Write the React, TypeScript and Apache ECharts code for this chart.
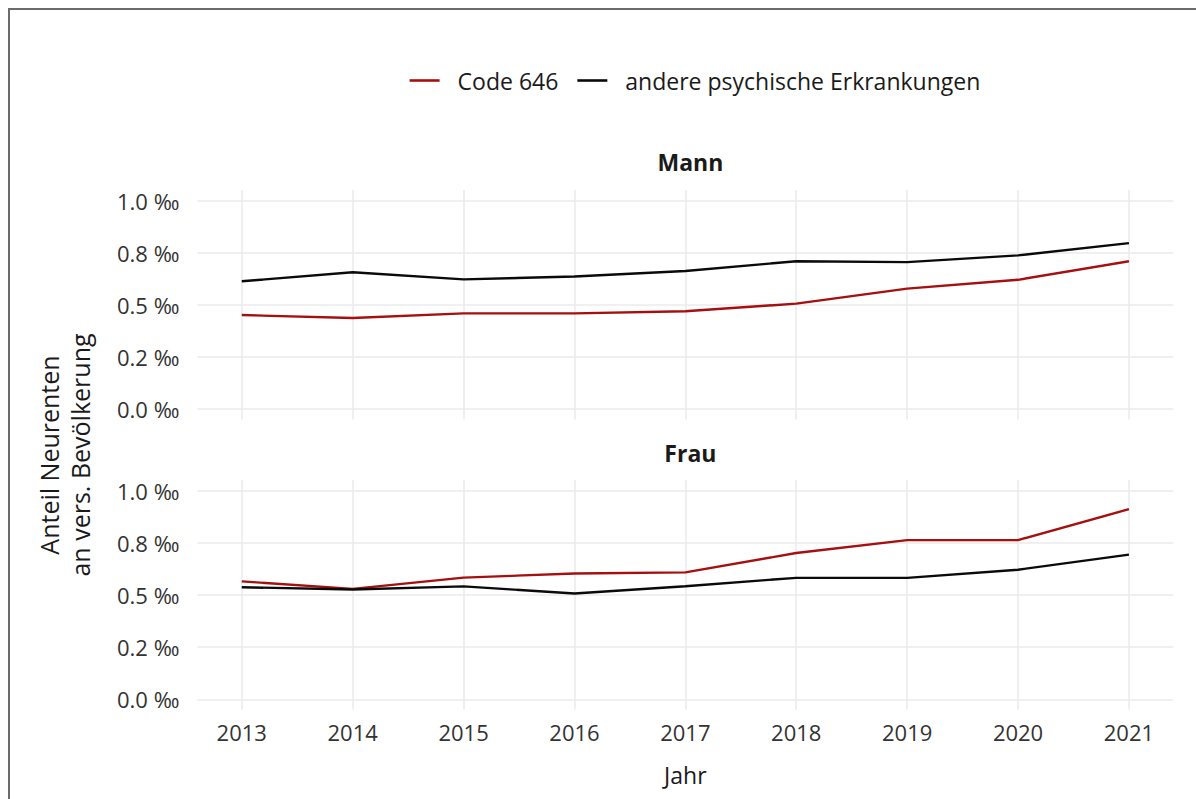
import React, { useEffect, useRef } from "react";
import * as echarts from "echarts";

const years = [2013, 2014, 2015, 2016, 2017, 2018, 2019, 2020, 2021];
const mannCode646 = [0.451, 0.437, 0.459, 0.459, 0.469, 0.506, 0.578, 0.62, 0.709];
const mannAndere = [0.613, 0.656, 0.622, 0.636, 0.662, 0.709, 0.705, 0.737, 0.796];
const frauCode646 = [0.565, 0.529, 0.583, 0.603, 0.608, 0.701, 0.763, 0.763, 0.911];
const frauAndere = [0.537, 0.526, 0.541, 0.507, 0.542, 0.582, 0.582, 0.621, 0.693];
const yTicks = [0, 0.25, 0.5, 0.75, 1];
const yTickLabels = ["0.0 ‰", "0.2 ‰", "0.5 ‰", "0.8 ‰", "1.0 ‰"];
const panels = ["Mann", "Frau"];
const seriesNames = ["Code 646", "andere psychische Erkrankungen"];

const RED = "#a50f0f";
const BLACK = "#0a0a0a";
const GRID = "#ebebeb";
const FONT = "Open Sans";

export default function App() {
  const ref = useRef<HTMLDivElement>(null);
  useEffect(() => {
    if (!ref.current) return;
    const chart = echarts.init(ref.current, undefined, { renderer: "svg" });
    const W = 1186;
    const gridLeft = 187.4;
    const gridRight = W - 1163.3;
    const gridTops = [180.1, 470.2];
    const gridH = 229.5;

    const grids = gridTops.map((t) => ({
      left: gridLeft,
      right: gridRight,
      top: t,
      height: gridH,
    }));

    const xAxes = gridTops.map((_, i) => ({
      type: "value",
      gridIndex: i,
      min: 2012.6,
      max: 2021.4,
      axisLine: { show: false },
      axisTick: { show: false },
      splitLine: { show: false },
      axisLabel: {
        show: i === 1,
        customValues: years,
        formatter: (v: number) => String(Math.round(v)),
        fontFamily: FONT,
        fontSize: 22,
        color: "#333333",
        margin: 11,
      },
    }));

    const yAxes = gridTops.map((_, i) => ({
      type: "value",
      gridIndex: i,
      min: -0.05,
      max: 1.05,
      axisLine: { show: false },
      axisTick: { show: false },
      splitLine: { show: false },
      axisLabel: {
        customValues: yTicks,
        formatter: (v: number) => {
          const k = yTicks.findIndex((t) => Math.abs(t - v) < 1e-6);
          return k >= 0 ? yTickLabels[k] : "";
        },
        fontFamily: FONT,
        fontSize: 22,
        color: "#333333",
        margin: 18,
      },
    }));

    const gridMarkLine = {
      silent: true,
      z: 1,
      symbol: ["none", "none"],
      label: { show: false },
      emphasis: { disabled: true },
      lineStyle: { type: "solid", color: GRID, width: 1.6 },
      data: [
        ...years.map((y) => ({ xAxis: y })),
        ...yTicks.map((v) => ({ yAxis: v })),
      ],
    };

    const data = [
      [mannCode646, mannAndere],
      [frauCode646, frauAndere],
    ];

    const series: any[] = [];
    data.forEach((pair, gi) => {
      pair.forEach((vals, si) => {
        series.push({
          type: "line",
          name: seriesNames[si],
          xAxisIndex: gi,
          yAxisIndex: gi,
          symbol: "none",
          z: 3,
          lineStyle: { color: si === 0 ? RED : BLACK, width: 2.4 },
          itemStyle: { color: si === 0 ? RED : BLACK },
          data: years.map((y, k) => [y, vals[k]]),
          markLine: si === 1 ? gridMarkLine : undefined,
        });
      });
    });

    chart.setOption({
      animation: false,
      backgroundColor: "#ffffff",
      textStyle: { fontFamily: FONT },
      grid: grids,
      xAxis: xAxes,
      yAxis: yAxes,
      legend: {
        data: seriesNames,
        left: 394.6,
        top: 54,
        icon: "rect",
        itemWidth: 30,
        itemHeight: 2.6,
        itemGap: 19,
        formatter: (n: string) => `{t|${n}}`,
        textStyle: {
          fontFamily: FONT,
          fontSize: 23,
          color: "#1a1a1a",
          rich: {
            t: { fontFamily: FONT, fontSize: 23, color: "#1a1a1a", padding: [0, 0, 0, 13] },
          },
        },
      },
      title: panels.map((p, i) => ({
        text: p,
        left: (gridLeft + 1163.3) / 2,
        top: i === 0 ? 135 : 426,
        textAlign: "center",
        textStyle: { fontFamily: FONT, fontSize: 23, fontWeight: "bold", color: "#1a1a1a" },
      })),
      graphic: [
        {
          type: "text",
          x: (gridLeft + 1163.3) / 2,
          y: 765,
          style: {
            text: "Jahr",
            fontFamily: FONT,
            fontSize: 23,
            fill: "#1a1a1a",
            textAlign: "center",
            textVerticalAlign: "middle",
          },
        },
        {
          type: "text",
          x: 54.5,
          y: 445,
          rotation: Math.PI / 2,
          style: {
            text: "Anteil Neurenten\nan vers. Bevölkerung",
            fontFamily: FONT,
            fontSize: 25,
            lineHeight: 31,
            fill: "#1a1a1a",
            textAlign: "center",
            textVerticalAlign: "middle",
          },
        },
      ],
      series,
    });
    return () => chart.dispose();
  }, []);

  return (
    <div
      style={{
        position: "fixed",
        left: 8,
        top: 8,
        width: 1188,
        height: 791,
        borderTop: "2px solid #6b6b6b",
        borderLeft: "2px solid #6b6b6b",
        background: "#ffffff",
        boxSizing: "border-box",
      }}
    >
      <div ref={ref} style={{ width: 1186, height: 789 }} />
    </div>
  );
}
